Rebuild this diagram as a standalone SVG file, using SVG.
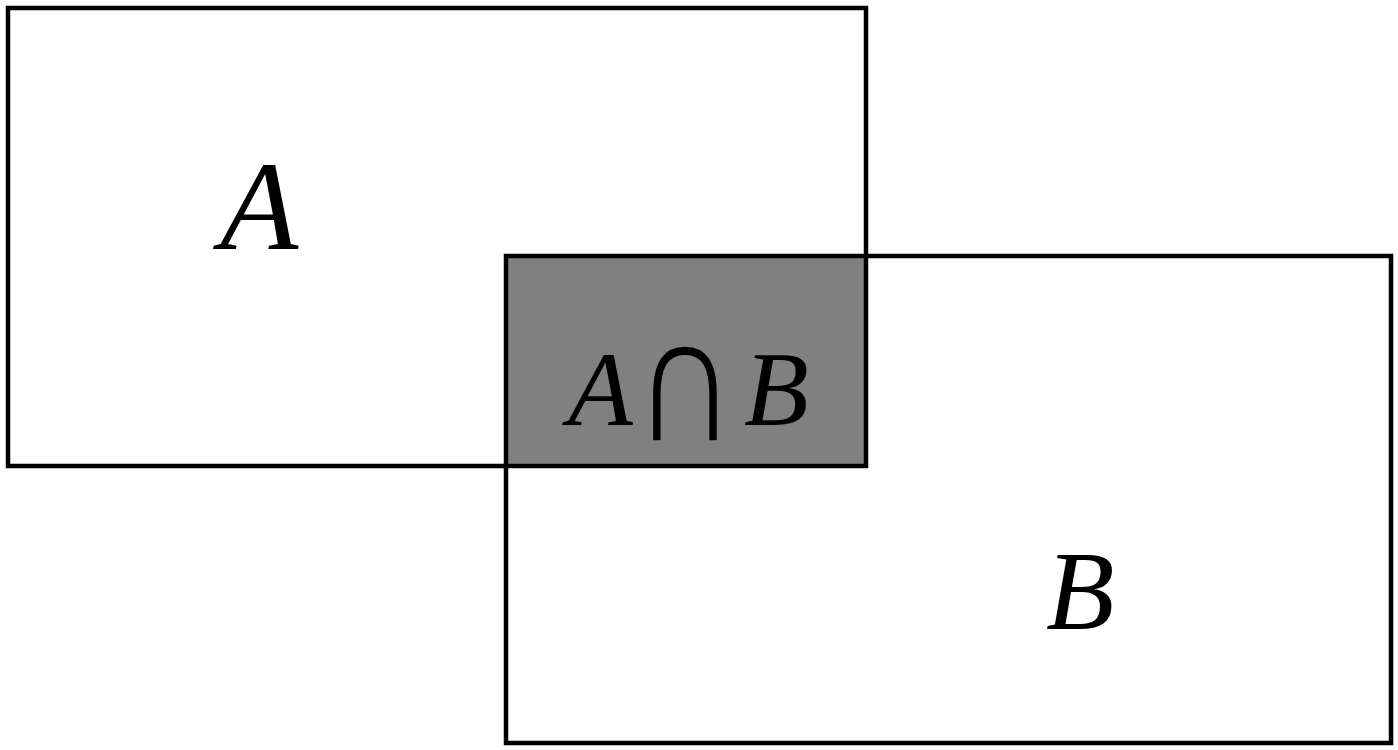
<svg xmlns="http://www.w3.org/2000/svg" width="1398" height="750" viewBox="0 0 1398 750">
<style>
.box{fill:none;stroke:#000;stroke-width:4.5}
.lbl{font-family:"Liberation Serif","Times New Roman",serif;font-style:italic;fill:#000}
.cap{font-family:"DejaVu Sans",sans-serif;font-style:normal;fill:#000;stroke:#808080;stroke-width:6.5;paint-order:fill stroke}
</style>
<rect width="1398" height="750" fill="#fff"/>
<g id="intersection"><rect x="506" y="256" width="360" height="210" fill="#808080"/></g>
<g id="setA"><rect class="box" x="8" y="8" width="858" height="458"/>
<text class="lbl" x="220" y="249" font-size="128">A</text></g>
<g id="setB"><rect class="box" x="506" y="256" width="885" height="487"/>
<text class="lbl" x="1046" y="629" font-size="112">B</text></g>
<g id="label-AnB"><text class="lbl" y="425" font-size="106"><tspan x="568">A</tspan><tspan x="744">B</tspan></text>
<text class="cap" transform="translate(685,443) scale(0.72,0.855)" text-anchor="middle" font-size="200">∩</text></g>
</svg>
